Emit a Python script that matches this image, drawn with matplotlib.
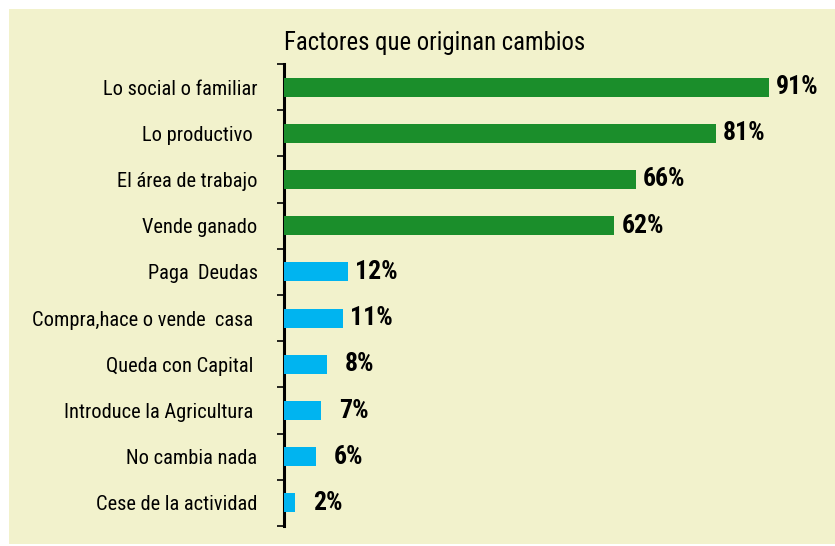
import matplotlib
matplotlib.use("Agg")
import matplotlib.pyplot as plt
from matplotlib import font_manager

categories = ["Lo social o familiar", "Lo productivo ", "El área de trabajo", "Vende ganado",
              "Paga  Deudas", "Compra,hace o vende  casa ", "Queda con Capital ",
              "Introduce la Agricultura ", "No cambia nada", "Cese de la actividad"]
values = [91, 81, 66, 62, 12, 11, 8, 7, 6, 2]
value_labels = ["91%", "81%", "66%", "62%", "12%", "11%", "8%", "7%", "6%", "2%"]
title = "Factores que originan cambios"

GREEN = "#1b8e2b"
BLUE = "#00b4f0"
BG = "#f2f2cc"
colors = [GREEN] * 4 + [BLUE] * 6

names = {f.name for f in font_manager.fontManager.ttflist}
chosen = None
for cand in ["Roboto Condensed", "Fira Sans Condensed", "Barlow Semi Condensed", "Liberation Sans Narrow"]:
    if cand in names:
        chosen = cand
        break
if chosen:
    plt.rcParams['font.family'] = [chosen, "DejaVu Sans"]
else:
    plt.rcParams['font.family'] = ["DejaVu Sans"]
    plt.rcParams['font.stretch'] = "condensed"

W, H = 835, 546
fig = plt.figure(figsize=(W / 100, H / 100), dpi=100)
fig.patch.set_facecolor("white")
bgrect = plt.Rectangle((9 / W, 2 / H), 1 - 9 / W, 1 - 11 / H, transform=fig.transFigure,
                       facecolor=BG, edgecolor="none", zorder=-10)
fig.patches.append(bgrect)

ax = fig.add_axes([284 / W, 20 / H, 533 / W, 462 / H])
ax.set_zorder(5)
ax.set_facecolor("none")
ypos = list(range(len(categories)))
ax.barh(ypos, values, height=0.41, color=colors, zorder=3)
ax.set_xlim(0, 100)
ax.set_ylim(len(categories) - 0.5, -0.5)

for y, v, lab in zip(ypos, values, value_labels):
    gap = 7 if v >= 10 else 18
    ax.annotate(lab, xy=(v, y), xytext=(gap, 0), textcoords="offset pixels",
                ha="left", va="center", fontsize=18.5, fontweight="bold", color="black")

ax.set_yticks(ypos)
ax.set_yticklabels(categories, fontsize=14.7)
ax.tick_params(axis="y", which="major", length=0, pad=19)
ax.set_yticks([i - 0.5 for i in range(len(categories) + 1)], minor=True)
ax.tick_params(axis="y", which="minor", length=5, width=1.2, direction="out")
ax.set_xticks([])
for s in ["top", "right", "bottom"]:
    ax.spines[s].set_visible(False)
ax.spines["left"].set_linewidth(2.2)

fig.text(284 / W, 1 - 50 / H, title, fontsize=17.8, ha="left", va="baseline")

fig.savefig("out.png", dpi=100)
